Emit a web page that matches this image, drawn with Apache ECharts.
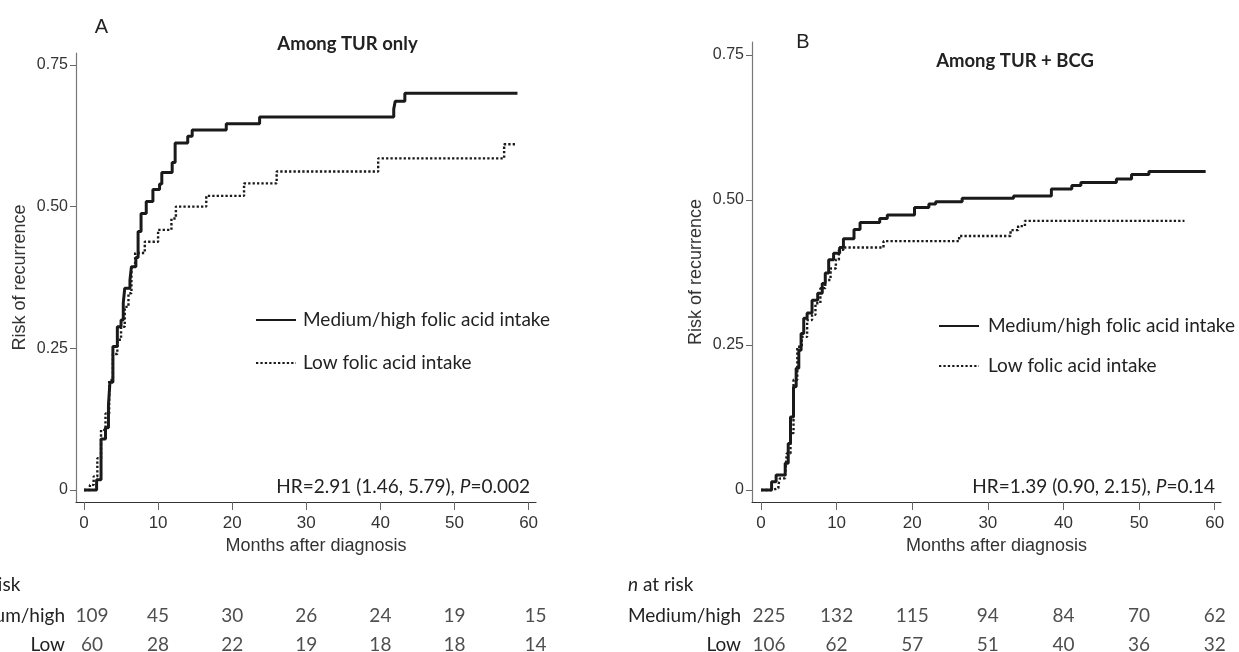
<!DOCTYPE html>
<html><head><meta charset="utf-8">
<script src="https://cdn.jsdelivr.net/npm/echarts@6/dist/echarts.min.js"></script>
<style>html,body{margin:0;padding:0;background:#fff}#c{width:1239px;height:652px}</style>
</head><body><div id="c"></div>
<script>
// ---- data ----
const months = [0, 10, 20, 30, 40, 50, 60];
const yTicks = [0, 0.25, 0.5, 0.75];
const groups = ['Medium/high', 'Low'];
const seriesNames = ['Medium/high folic acid intake', 'Low folic acid intake'];

// Panel A: among TUR only  [month, cumulative risk]
const aMedHigh = [[0,0],[1.7,0.018],[2.3,0.09],[2.9,0.11],[3.3,0.15],[3.5,0.19],[3.9,0.253],[4.5,0.288],[5.0,0.30],[5.3,0.33],[5.5,0.356],[6.2,0.37],[6.4,0.394],[7.0,0.41],[7.3,0.456],[7.7,0.488],[8.4,0.509],[9.3,0.53],[10.2,0.54],[10.5,0.56],[11.9,0.578],[12.3,0.612],[14.0,0.624],[14.6,0.635],[19.2,0.646],[23.7,0.658],[41.8,0.672],[42.0,0.686],[43.3,0.70],[58.5,0.70]];
const aLow = [[0,0],[0.8,0.009],[1.3,0.024],[1.8,0.056],[2.3,0.106],[2.9,0.135],[3.4,0.194],[3.9,0.24],[4.5,0.265],[5.0,0.288],[5.5,0.323],[6.0,0.347],[6.4,0.394],[6.9,0.418],[8.2,0.438],[10.0,0.459],[11.8,0.479],[12.4,0.50],[16.5,0.519],[21.6,0.541],[26.0,0.562],[39.7,0.585],[56.7,0.61],[58.3,0.61]];
// Panel B: among TUR + BCG
const bMedHigh = [[0,0],[1.4,0.014],[2.0,0.026],[3.2,0.046],[3.6,0.08],[3.9,0.126],[4.3,0.178],[4.65,0.21],[5.0,0.241],[5.3,0.27],[5.65,0.296],[6.1,0.305],[6.75,0.327],[7.5,0.339],[8.1,0.356],[8.5,0.374],[8.95,0.397],[9.6,0.408],[10.4,0.418],[10.9,0.433],[12.3,0.449],[13.1,0.461],[15.7,0.468],[16.7,0.474],[20.3,0.487],[22.2,0.493],[23.1,0.497],[26.6,0.503],[33.4,0.507],[38.4,0.519],[41.1,0.525],[42.3,0.53],[47.0,0.536],[49.0,0.544],[51.3,0.549],[58.8,0.549]];
const bLow = [[0,0],[1.45,0.003],[2.3,0.009],[2.5,0.02],[3.2,0.026],[3.4,0.063],[3.9,0.098],[4.3,0.19],[4.8,0.247],[5.4,0.264],[6.1,0.293],[6.75,0.302],[7.2,0.322],[7.85,0.348],[8.5,0.362],[9.2,0.382],[9.9,0.397],[10.3,0.414],[10.9,0.418],[16.2,0.429],[26.2,0.438],[33.0,0.448],[34.0,0.455],[34.9,0.464],[56.0,0.464]];

// numbers at risk
const riskAMed = [109, 45, 30, 26, 24, 19, 15];
const riskALow = [60, 28, 22, 19, 18, 18, 14];
const riskBMed = [225, 132, 115, 94, 84, 70, 62];
const riskBLow = [106, 62, 57, 51, 40, 36, 32];

const hrA = 'HR=2.91 (1.46, 5.79), {i|P}=0.002';
const hrB = 'HR=1.39 (0.90, 2.15), {i|P}=0.14';

// ---- styles ----
const SANS = '"Liberation Sans", Arial, sans-serif';
const CAL = 'Lato, "Open Sans", sans-serif';
const FS = 19;
const INK = '#1a1a1a';

function xAxisPlot(grid, min, max) {
  return {
    type: 'value', gridIndex: grid, min: min, max: max,
    axisLine: { show: true, onZero: false, lineStyle: { color: '#333', width: 1.2 } },
    axisTick: { show: true, customValues: months, length: 8, lineStyle: { color: '#666' } },
    axisLabel: { customValues: months, margin: 13, fontSize: 17, fontFamily: SANS, color: '#333' },
    splitLine: { show: false },
    name: 'Months after diagnosis', nameLocation: 'middle', nameGap: 30,
    nameTextStyle: { fontSize: 18, fontFamily: SANS, color: '#333', padding: [0, 0, 0, 20] }
  };
}
function yAxisPlot(grid, min, max) {
  return {
    type: 'value', gridIndex: grid, min: min, max: max,
    axisLine: { show: true, onZero: false, lineStyle: { color: '#777', width: 1.2 } },
    axisTick: { show: true, customValues: yTicks, length: 6, lineStyle: { color: '#666' } },
    axisLabel: { customValues: yTicks, margin: 8, fontSize: 16, fontFamily: SANS, color: '#333',
      formatter: v => v === 0 ? '0' : v.toFixed(2) },
    splitLine: { show: false },
    name: 'Risk of recurrence', nameLocation: 'middle', nameGap: 47,
    nameTextStyle: { fontSize: 18, fontFamily: SANS, color: '#333' }
  };
}
function xAxisTable(grid, min, max) {
  return { type: 'value', gridIndex: grid, min: min, max: max, show: false };
}
function yAxisTable(grid) {
  return {
    type: 'category', gridIndex: grid, data: groups, inverse: true,
    axisLine: { show: false }, axisTick: { show: false },
    axisLabel: { margin: 11, fontSize: FS, fontFamily: CAL, color: '#222' }
  };
}
function lineSeries(name, data, ax, dotted) {
  return {
    type: 'line', name: name, xAxisIndex: ax, yAxisIndex: ax, data: data,
    step: 'end', symbol: 'none', silent: true,
    lineStyle: dotted ? { color: INK, width: 2.4, type: [2.3, 2.1], cap: 'butt' }
                      : { color: INK, width: 3 }
  };
}
function tableSeries(ax, med, low, lastShift) {
  const data = [];
  [med, low].forEach((arr, r) => {
    arr.forEach((n, i) => {
      const shift = i === 0 ? 8 : (i === arr.length - 1 ? lastShift : 0);
      data.push({ value: [months[i], r, n], label: { offset: [shift, 0] } });
    });
  });
  return {
    type: 'scatter', xAxisIndex: ax, yAxisIndex: ax, data: data, symbolSize: 1, silent: true,
    itemStyle: { color: 'rgba(0,0,0,0)' },
    label: { show: true, position: 'inside', formatter: p => String(p.value[2]),
      fontSize: FS, fontFamily: CAL, color: '#222' }
  };
}
function legendAt(left, top, gap, textPad) {
  return {
    left: left, top: top, orient: 'vertical', itemWidth: 40, itemHeight: 14, itemGap: gap,
    data: seriesNames, selectedMode: false,
    itemStyle: { opacity: 0 },
    textStyle: { fontSize: FS, fontFamily: CAL, color: '#222', lineHeight: 20, padding: [0, 0, 0, textPad] }
  };
}
const richI = { i: { fontStyle: 'italic', fontSize: FS, fontFamily: CAL, fill: '#222' } };
function txt(x, y, text, font, align, extra) {
  return { type: 'text', silent: true, style: Object.assign({ x: x, y: y, text: text, font: font,
    fill: '#222', align: align || 'center', verticalAlign: 'middle' }, extra || {}) };
}
function grid(left, top, width, height) {
  return { left: left, top: top, width: width, height: height, containLabel: false, outerBoundsMode: 'none' };
}

const chart = echarts.init(document.getElementById('c'), null, { renderer: 'canvas' });
chart.setOption({
  animation: false,
  backgroundColor: '#fff',
  grid: [
    grid(76, 53, 460, 449),
    grid(752, 42, 469, 460),
    grid(76, 602, 460, 57),
    grid(752, 602, 469, 57)
  ],
  xAxis: [xAxisPlot(0, -1.08, 61.0), xAxisPlot(1, -1.19, 60.83), xAxisTable(2, -1.08, 61.0), xAxisTable(3, -1.19, 60.83)],
  yAxis: [yAxisPlot(0, -0.0212, 0.771), yAxisPlot(1, -0.0207, 0.7724), yAxisTable(2), yAxisTable(3)],
  legend: [legendAt(250, 305, 23, 2), legendAt(933, 311, 20, 4)],
  series: [
    lineSeries(seriesNames[0], aMedHigh, 0, false),
    lineSeries(seriesNames[1], aLow, 0, true),
    lineSeries(seriesNames[0], bMedHigh, 1, false),
    lineSeries(seriesNames[1], bLow, 1, true),
    tableSeries(2, riskAMed, riskALow, 7),
    tableSeries(3, riskBMed, riskBLow, 0)
  ],
  graphic: [
    txt(101.5, 27, 'A', '20px ' + SANS),
    txt(803, 42, 'B', '20px ' + SANS),
    txt(347.5, 44, 'Among TUR only', 'bold 18.5px ' + CAL),
    txt(1015, 61, 'Among TUR + BCG', 'bold 18.5px ' + CAL),
    txt(530, 487, hrA, FS + 'px ' + CAL, 'right', { rich: richI }),
    txt(1215, 487, hrB, FS + 'px ' + CAL, 'right', { rich: richI }),
    txt(-45, 585, '{i|n} at risk', FS + 'px ' + CAL, 'left', { rich: richI }),
    txt(628, 585, '{i|n} at risk', FS + 'px ' + CAL, 'left', { rich: richI })
  ]
});
</script></body></html>
